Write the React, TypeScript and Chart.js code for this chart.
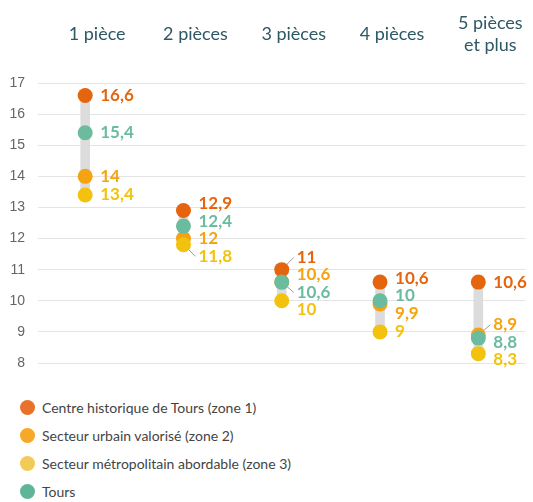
import React, { useEffect, useRef } from 'react';
import { Chart, registerables } from 'chart.js';

Chart.register(...registerables);

const categories = ['1 pièce', '2 pièces', '3 pièces', '4 pièces', '5 pièces\net plus'];
const seriesNames = [
  'Centre historique de Tours (zone 1)',
  'Secteur urbain valorisé (zone 2)',
  'Secteur métropolitain abordable (zone 3)',
  'Tours',
];
const zone1 = [16.6, 12.9, 11, 10.6, 10.6];
const zone2 = [14, 12, 10.6, 9.9, 8.9];
const zone3 = [13.4, 11.8, 10, 9, 8.3];
const tours = [15.4, 12.4, 10.6, 10, 8.8];
const seriesValues = [zone1, zone2, zone3, tours];
const yMin = 8;
const yMax = 17;

const seriesColors = ['#E5650F', '#F5A311', '#F2C20F', '#6BBB9E'];
const legendColors = ['#E8722B', '#F7A826', '#F2CA58', '#5EB597'];
const drawOrder = [3, 4, 2, 1];

const fmt = (v: number) => String(v).replace('.', ',');

const labelPlugin = {
  id: 'stackLabels',
  afterDatasetsDraw(chart: any) {
    const ctx = chart.ctx;
    const GAP = 17.5;
    ctx.save();
    ctx.font = 'bold 17px Lato';
    ctx.textBaseline = 'middle';
    ctx.textAlign = 'left';
    categories.forEach((_, i) => {
      const items: any[] = [];
      chart.data.datasets.forEach((ds: any, di: number) => {
        if (ds.type === 'bar') return;
        const el = chart.getDatasetMeta(di).data[i];
        items.push({ x: el.x, y: el.y, r: ds.pointRadius, text: fmt(ds.data[i].y), color: ds.pointBackgroundColor, idx: di });
      });
      items.sort((a, b) => a.y - b.y || a.idx - b.idx);
      let groups = items.map((it) => ({ m: [it], center: it.y }));
      let changed = true;
      while (changed) {
        changed = false;
        for (let g = 0; g < groups.length - 1; g++) {
          const a = groups[g];
          const b = groups[g + 1];
          const aBottom = a.center + ((a.m.length - 1) * GAP) / 2;
          const bTop = b.center - ((b.m.length - 1) * GAP) / 2;
          if (bTop - aBottom < GAP) {
            const m = a.m.concat(b.m);
            const center = m.reduce((s: number, it: any) => s + it.y, 0) / m.length;
            groups.splice(g, 2, { m, center });
            changed = true;
            break;
          }
        }
      }
      groups.forEach((g) => {
        const top = g.center - ((g.m.length - 1) * GAP) / 2;
        g.m.forEach((it: any, k: number) => {
          const ly = top + k * GAP;
          const lx = it.x + 15;
          if (Math.abs(ly - it.y) > 9.5) {
            const tx = lx - 3;
            const ang = Math.atan2(ly - it.y, tx - it.x);
            ctx.beginPath();
            ctx.strokeStyle = '#9a9a9a';
            ctx.lineWidth = 1;
            ctx.moveTo(it.x + Math.cos(ang) * it.r, it.y + Math.sin(ang) * it.r);
            ctx.lineTo(tx, ly);
            ctx.stroke();
          }
          ctx.fillStyle = it.color;
          ctx.fillText(it.text, lx, ly);
        });
      });
    });
    ctx.restore();
  },
};

export default function App() {
  const ref = useRef<HTMLCanvasElement>(null);
  useEffect(() => {
    Chart.defaults.font.family = 'Lato';
    const datasets: any[] = [
      {
        type: 'bar',
        label: 'range',
        data: categories.map((_, i) => {
          const vals = seriesValues.map((s) => s[i]);
          return { x: i, y: [Math.min(...vals), Math.max(...vals)] };
        }),
        backgroundColor: '#dcdcdc',
        barThickness: 9,
        order: 10,
      },
      ...seriesValues.map((vals, si) => ({
        type: 'line',
        label: seriesNames[si],
        data: vals.map((v, i) => ({ x: i, y: v })),
        showLine: false,
        pointRadius: 7.5,
        pointHoverRadius: 7.5,
        pointBorderWidth: 0,
        pointBackgroundColor: seriesColors[si],
        borderColor: seriesColors[si],
        backgroundColor: seriesColors[si],
        order: drawOrder[si],
        clip: false,
      })),
    ];
    const chart = new Chart(ref.current!, {
      type: 'line',
      data: { datasets },
      options: {
        animation: false,
        responsive: true,
        maintainAspectRatio: false,
        layout: { padding: { top: 9, bottom: 22, left: 9, right: 0 } },
        plugins: { legend: { display: false }, tooltip: { enabled: false } },
        scales: {
          x: {
            type: 'linear',
            position: 'top',
            offset: false,
            min: -0.48,
            max: 4.48,
            afterBuildTicks: (scale: any) => {
              scale.ticks = categories.map((_, i) => ({ value: i }));
            },
            afterFit: (scale: any) => {
              scale.height = 74;
              scale.paddingLeft = 0;
              scale.paddingRight = 0;
              scale.paddingTop = 0;
              scale.paddingBottom = 0;
            },
            grid: { display: false, offset: false },
            border: { display: false },
            ticks: {
              autoSkip: false,
              maxRotation: 0,
              minRotation: 0,
              crossAlign: 'center',
              labelOffset: 12,
              padding: 30,
              color: '#2d5864',
              font: { family: 'Lato', size: 18, lineHeight: 1.2 },
              callback: (v: any) => {
                const c = categories[v];
                return c ? c.split('\n') : '';
              },
            },
          },
          y: {
            min: yMin,
            max: yMax,
            afterFit: (scale: any) => {
              scale.width = 29;
              scale.paddingTop = 0;
              scale.paddingBottom = 0;
            },
            grid: { color: '#e4e4e4', drawTicks: false },
            border: { display: false },
            ticks: {
              stepSize: 1,
              padding: 13,
              color: '#666666',
              font: { family: 'Liberation Sans', size: 14 },
            },
          },
        },
      },
      plugins: [labelPlugin],
    } as any);
    return () => chart.destroy();
  }, []);
  return (
    <div style={{ position: 'absolute', left: 0, top: 0, width: 533, height: 502, background: '#fff', fontFamily: 'Lato' }}>
      <div style={{ position: 'relative', width: 533, height: 385 }}>
        <canvas ref={ref} />
      </div>
      <div style={{ position: 'absolute', left: 20, top: 393 }}>
        {seriesNames.map((n, i) => (
          <div key={n} style={{ display: 'flex', alignItems: 'center', height: 28 }}>
            <span style={{ display: 'inline-block', width: 15, height: 15, borderRadius: '50%', background: legendColors[i], marginRight: 7 }} />
            <span style={{ fontSize: 14, color: '#444' }}>{n}</span>
          </div>
        ))}
      </div>
    </div>
  );
}
